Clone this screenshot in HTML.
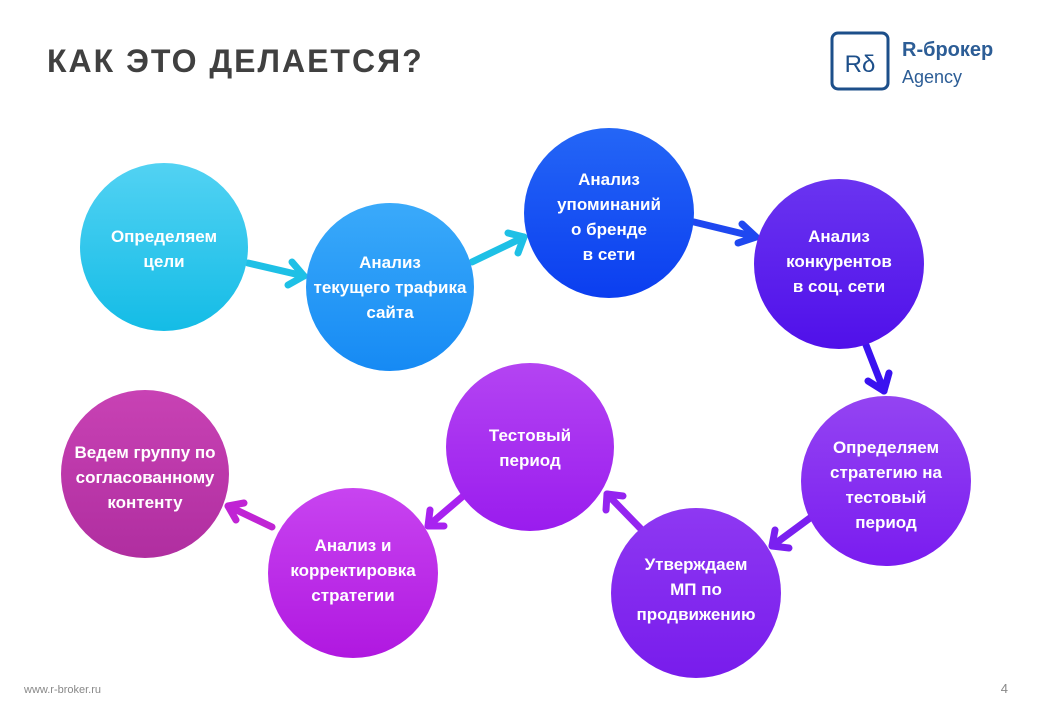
<!DOCTYPE html>
<html><head><meta charset="utf-8"><style>
body{margin:0;width:1040px;height:720px;background:#fff;overflow:hidden;font-family:"Liberation Sans","DejaVu Sans",sans-serif}
svg{position:absolute;left:0;top:0}
</style></head><body>
<svg width="1040" height="720" viewBox="0 0 1040 720" font-family="Liberation Sans, DejaVu Sans, sans-serif">
<defs>
<linearGradient id="g1" x1="0" y1="0" x2="0" y2="1"><stop offset="0" stop-color="#52d2f3"/><stop offset="1" stop-color="#14bce6"/></linearGradient>
<linearGradient id="g2" x1="0" y1="0" x2="0" y2="1"><stop offset="0" stop-color="#3aaafa"/><stop offset="1" stop-color="#168af4"/></linearGradient>
<linearGradient id="g3" x1="0" y1="0" x2="0" y2="1"><stop offset="0" stop-color="#2466f6"/><stop offset="1" stop-color="#0b3ef0"/></linearGradient>
<linearGradient id="g4" x1="0" y1="0" x2="0" y2="1"><stop offset="0" stop-color="#6a34f0"/><stop offset="1" stop-color="#5010ea"/></linearGradient>
<linearGradient id="g5" x1="0" y1="0" x2="0" y2="1"><stop offset="0" stop-color="#9444f2"/><stop offset="1" stop-color="#7a1cf0"/></linearGradient>
<linearGradient id="g6" x1="0" y1="0" x2="0" y2="1"><stop offset="0" stop-color="#8e38f2"/><stop offset="1" stop-color="#781cec"/></linearGradient>
<linearGradient id="g7" x1="0" y1="0" x2="0" y2="1"><stop offset="0" stop-color="#b444f2"/><stop offset="1" stop-color="#9a1cee"/></linearGradient>
<linearGradient id="g8" x1="0" y1="0" x2="0" y2="1"><stop offset="0" stop-color="#c844f0"/><stop offset="1" stop-color="#b018e0"/></linearGradient>
<linearGradient id="g9" x1="0" y1="0" x2="0" y2="1"><stop offset="0" stop-color="#c842b4"/><stop offset="1" stop-color="#b02ea0"/></linearGradient>
</defs>
<text x="47" y="72" font-size="32" font-weight="bold" fill="#404040" letter-spacing="2">КАК ЭТО ДЕЛАЕТСЯ?</text>
<rect x="832" y="33" width="56" height="56" rx="6" fill="none" stroke="#1d4f8a" stroke-width="3"/>
<text x="860" y="72" font-size="24" fill="#1d4f8a" text-anchor="middle">Rδ</text>
<text x="902" y="56" font-size="20" font-weight="bold" fill="#2c5d96">R-брокер</text>
<text x="902" y="83" font-size="18" fill="#2c5d96">Agency</text>
<text x="24" y="693" font-size="11" fill="#888">www.r-broker.ru</text>
<text x="1008" y="693" font-size="13" fill="#888" text-anchor="end">4</text>
<g fill="none" stroke-width="7" stroke-linecap="round" stroke-linejoin="round">
<g stroke="#1ec0e6"><path d="M248 263 L304 276"/><path d="M292 262 L304 276 L288 285"/>
<path d="M472 262 L524 237"/><path d="M508 233 L524 237 L518 253"/></g>
<g stroke="#1f48f0"><path d="M694 222 L756 237"/><path d="M742 224 L756 237 L738 243"/></g>
<g stroke="#3a12f0"><path d="M866 345 L884 391"/><path d="M868 381 L884 391 L889 373"/></g>
<g stroke="#7a20f0"><path d="M810 518 L772 546"/><path d="M775 530 L772 546 L789 548"/></g>
<g stroke="#9424f0"><path d="M640 528 L607 494"/><path d="M606 510 L607 494 L623 496"/></g>
<g stroke="#a822f0"><path d="M462 497 L428 526"/><path d="M430 510 L428 526 L444 526"/></g>
<g stroke="#c024d4"><path d="M272 527 L228 506"/><path d="M236 520 L228 506 L244 503"/></g>
</g>
<circle cx="164" cy="247" r="84" fill="url(#g1)"/>
<circle cx="390" cy="287" r="84" fill="url(#g2)"/>
<circle cx="609" cy="213" r="85" fill="url(#g3)"/>
<circle cx="839" cy="264" r="85" fill="url(#g4)"/>
<circle cx="886" cy="481" r="85" fill="url(#g5)"/>
<circle cx="696" cy="593" r="85" fill="url(#g6)"/>
<circle cx="530" cy="447" r="84" fill="url(#g7)"/>
<circle cx="353" cy="573" r="85" fill="url(#g8)"/>
<circle cx="145" cy="474" r="84" fill="url(#g9)"/>
<g fill="#fff" font-size="17" font-weight="bold" text-anchor="middle">
<text x="164" y="242">Определяем</text><text x="164" y="267">цели</text>
<text x="390" y="268">Анализ</text><text x="390" y="293">текущего трафика</text><text x="390" y="318">сайта</text>
<text x="609" y="185">Анализ</text><text x="609" y="210">упоминаний</text><text x="609" y="235">о бренде</text><text x="609" y="260">в сети</text>
<text x="839" y="242">Анализ</text><text x="839" y="267">конкурентов</text><text x="839" y="292">в соц. сети</text>
<text x="886" y="453">Определяем</text><text x="886" y="478">стратегию на</text><text x="886" y="503">тестовый</text><text x="886" y="528">период</text>
<text x="696" y="570">Утверждаем</text><text x="696" y="595">МП по</text><text x="696" y="620">продвижению</text>
<text x="530" y="441">Тестовый</text><text x="530" y="466">период</text>
<text x="353" y="551">Анализ и</text><text x="353" y="576">корректировка</text><text x="353" y="601">стратегии</text>
<text x="145" y="458">Ведем группу по</text><text x="145" y="483">согласованному</text><text x="145" y="508">контенту</text>
</g>
</svg>
</body></html>
